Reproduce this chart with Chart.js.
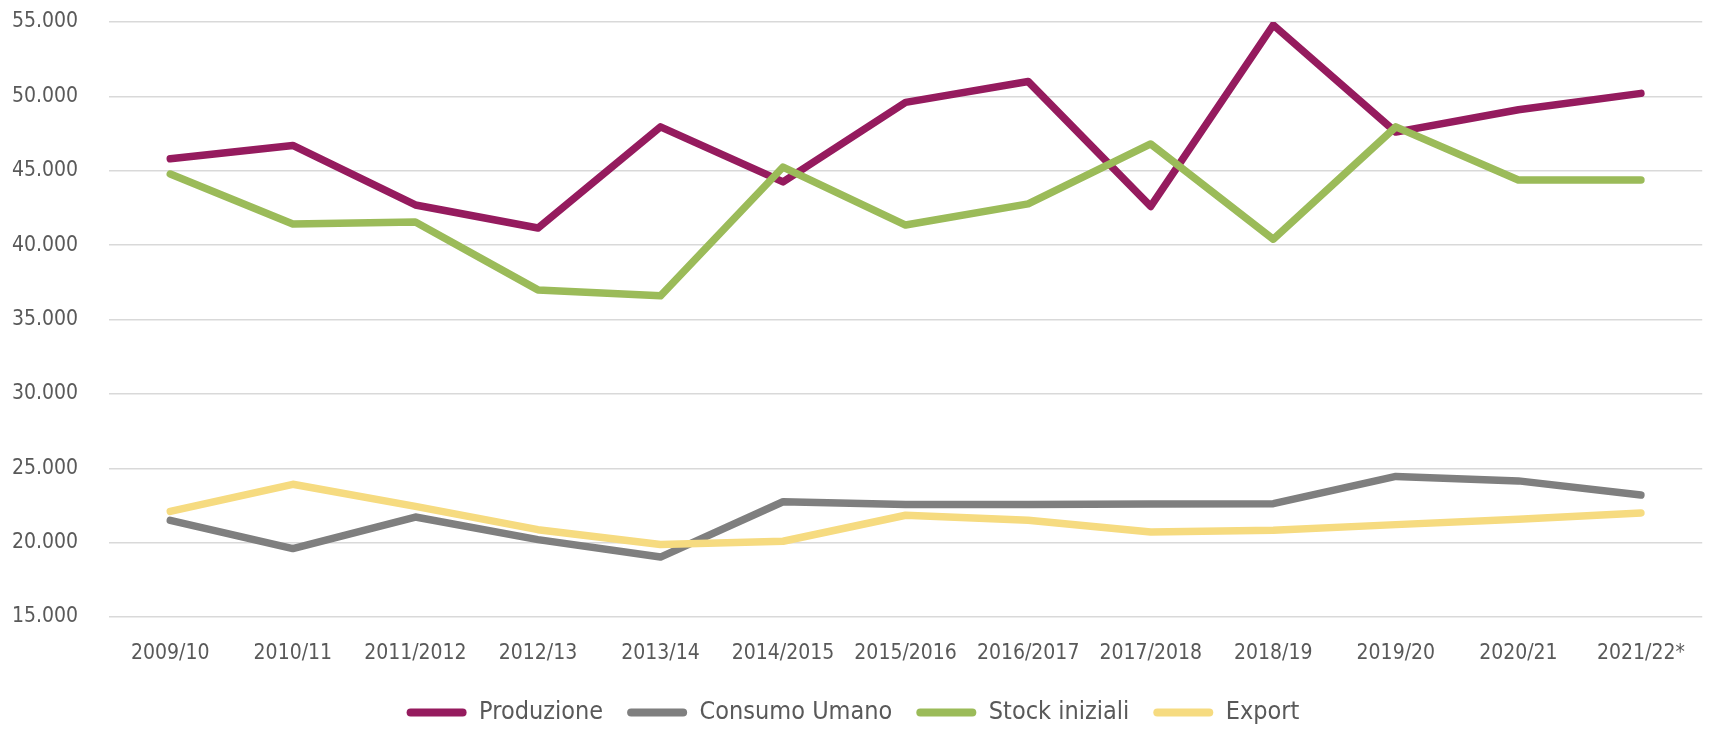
<!DOCTYPE html>
<html>
<head>
<meta charset="utf-8">
<script src="https://cdn.jsdelivr.net/npm/chart.js@4.4.1/dist/chart.umd.min.js"></script>
<style>
  html, body { margin: 0; padding: 0; background: #ffffff; }
  #wrap { width: 1709px; height: 735px; position: relative; }
</style>
</head>
<body>
<div id="wrap"><canvas id="c"></canvas></div>
<script>
const categories = ['2009/10','2010/11','2011/2012','2012/13','2013/14','2014/2015','2015/2016','2016/2017','2017/2018','2018/19','2019/20','2020/21','2021/22*'];
const produzione = [45800, 46700, 42700, 41150, 47950, 44250, 49600, 51000, 42600, 54800, 47600, 49100, 50200];
const consumoUmano = [21500, 19600, 21720, 20200, 19030, 22750, 22560, 22560, 22600, 22620, 24450, 24150, 23200];
const stockIniziali = [44780, 41420, 41550, 36990, 36590, 45250, 41350, 42770, 46800, 40400, 47950, 44380, 44380];
const exportVals = [22100, 23920, 22440, 20870, 19870, 20090, 21840, 21500, 20710, 20830, 21210, 21570, 21990];
const seriesNames = ['Produzione', 'Consumo Umano', 'Stock iniziali', 'Export'];
const seriesColors = ['#951B5E', '#7F7F7F', '#9BBB59', '#F6DB80'];
const yMin = 15000, yMax = 55000, yStep = 5000;

const FONT = "'Liberation Sans Narrow', 'Arial Narrow', 'DejaVu Sans Condensed', sans-serif";
const TEXT = '#595959';

function fmt(v) {
  const s = String(Math.round(v));
  return s.replace(/\B(?=(\d{3})+(?!\d))/g, '.');
}

const seriesData = [produzione, consumoUmano, stockIniziali, exportVals];
const datasets = seriesData.map((d, i) => ({
  label: seriesNames[i],
  data: d,
  borderColor: seriesColors[i],
  backgroundColor: seriesColors[i],
  borderWidth: 7.5,
  borderCapStyle: 'round',
  borderJoinStyle: 'round',
  pointRadius: 0,
  pointHoverRadius: 0,
  tension: 0,
  fill: false,
  order: seriesData.length - i
}));

new Chart(document.getElementById('c'), {
  type: 'line',
  data: { labels: categories, datasets },
  options: {
    responsive: true,
    maintainAspectRatio: false,
    animation: false,
    layout: { padding: { top: 22, right: 3, left: 0, bottom: 0 } },
    plugins: {
      tooltip: { enabled: false },
      legend: {
        position: 'bottom',
        labels: {
          color: TEXT,
          font: { family: FONT, size: 25 },
          boxWidth: 60,
          boxHeight: 8,
          padding: 24,
          generateLabels: (chart) => chart.data.datasets.map((ds, i) => ({
            text: ds.label,
            fillStyle: ds.borderColor,
            strokeStyle: ds.borderColor,
            lineWidth: 0,
            borderRadius: 4,
            fontColor: TEXT,
            hidden: false,
            datasetIndex: i
          }))
        }
      }
    },
    scales: {
      x: {
        offset: true,
        grid: { display: false, drawTicks: false },
        border: { display: false },
        ticks: {
          color: TEXT,
          font: { family: FONT, size: 21 },
          padding: 24,
          maxRotation: 0,
          autoSkip: false
        },
        afterFit: (s) => { s.height = 59; }
      },
      y: {
        min: yMin,
        max: yMax,
        grid: { color: '#D9D9D9', lineWidth: 1.5, drawTicks: true, tickLength: 31, tickColor: 'rgba(0,0,0,0)' },
        border: { display: false },
        ticks: {
          stepSize: yStep,
          color: TEXT,
          font: { family: FONT, size: 21 },
          padding: 0,
          callback: (v) => fmt(v)
        },
        afterFit: (s) => { s.width = 109; }
      }
    }
  }
});
</script>
</body>
</html>
